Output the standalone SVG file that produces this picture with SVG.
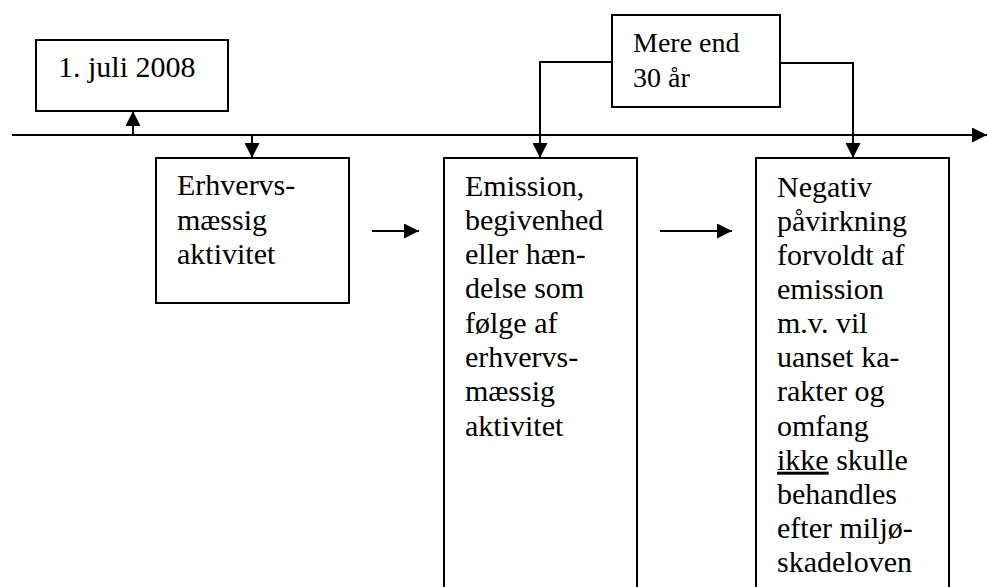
<svg xmlns="http://www.w3.org/2000/svg" width="987" height="587" viewBox="0 0 987 587">
<style>
.box{fill:#fff;stroke:#000;stroke-width:2}
.ln{fill:none;stroke:#000;stroke-width:2}
.t{font-family:"Liberation Serif","DejaVu Serif",serif;font-size:30px;fill:#000}
.t2{font-family:"Liberation Serif","DejaVu Serif",serif;font-size:28px;fill:#000}
</style>
<defs>
<marker id="ah" markerUnits="userSpaceOnUse" markerWidth="15" markerHeight="15" refX="14" refY="7" orient="auto" viewBox="0 0 14 14">
<path d="M0,0 L14,7 L0,14 z" fill="#000"/>
</marker>
</defs>
<rect width="987" height="587" fill="#fff"/>
<g id="connectors">
<line class="ln" x1="12" y1="135" x2="987" y2="135" marker-end="url(#ah)"/>
<line class="ln" x1="133" y1="135" x2="133" y2="111" marker-end="url(#ah)"/>
<line class="ln" x1="252" y1="135" x2="252" y2="158" marker-end="url(#ah)"/>
<path class="ln" d="M612,62 H540 V158" marker-end="url(#ah)"/>
<path class="ln" d="M780,63 H853 V158" marker-end="url(#ah)"/>
<line class="ln" x1="372" y1="231" x2="419" y2="231" marker-end="url(#ah)"/>
<line class="ln" x1="660" y1="231" x2="732" y2="231" marker-end="url(#ah)"/>
</g>
<g id="n-date">
<rect class="box" x="36" y="40" width="192" height="71"/>
<text class="t" x="58" y="77">1. juli 2008</text>
</g>
<g id="n-30">
<rect class="box" x="612" y="15" width="168" height="92"/>
<text class="t2" x="633" y="52">Mere end</text>
<text class="t2" x="633" y="87">30 år</text>
</g>
<g id="n-erhverv">
<rect class="box" x="156" y="158" width="193" height="145"/>
<text class="t" x="177" y="195">Erhvervs-</text>
<text class="t" x="177" y="229.5">mæssig</text>
<text class="t" x="177" y="264">aktivitet</text>
</g>
<g id="n-emission">
<rect class="box" x="444" y="158" width="193" height="440"/>
<text class="t" x="465" y="195.5">Emission,</text>
<text class="t" x="465" y="229.8">begivenhed</text>
<text class="t" x="465" y="264.1">eller hæn-</text>
<text class="t" x="465" y="298.4">delse som</text>
<text class="t" x="465" y="332.7">følge af</text>
<text class="t" x="465" y="367">erhvervs-</text>
<text class="t" x="465" y="401.3">mæssig</text>
<text class="t" x="465" y="435.6">aktivitet</text>
</g>
<g id="n-negativ">
<rect class="box" x="756" y="158" width="193" height="440"/>
<text class="t" x="777" y="196.5">Negativ</text>
<text class="t" x="777" y="230.6">påvirkning</text>
<text class="t" x="777" y="264.8">forvoldt af</text>
<text class="t" x="777" y="298.9">emission</text>
<text class="t" x="777" y="333.1">m.v. vil</text>
<text class="t" x="777" y="367.2">uanset ka-</text>
<text class="t" x="777" y="401.4">rakter og</text>
<text class="t" x="777" y="435.5">omfang</text>
<text class="t" x="777" y="469.7"><tspan style="text-decoration:underline">ikke</tspan> skulle</text>
<text class="t" x="777" y="503.8">behandles</text>
<text class="t" x="777" y="538">efter miljø-</text>
<text class="t" x="777" y="572.1">skadeloven</text>
</g>
</svg>
